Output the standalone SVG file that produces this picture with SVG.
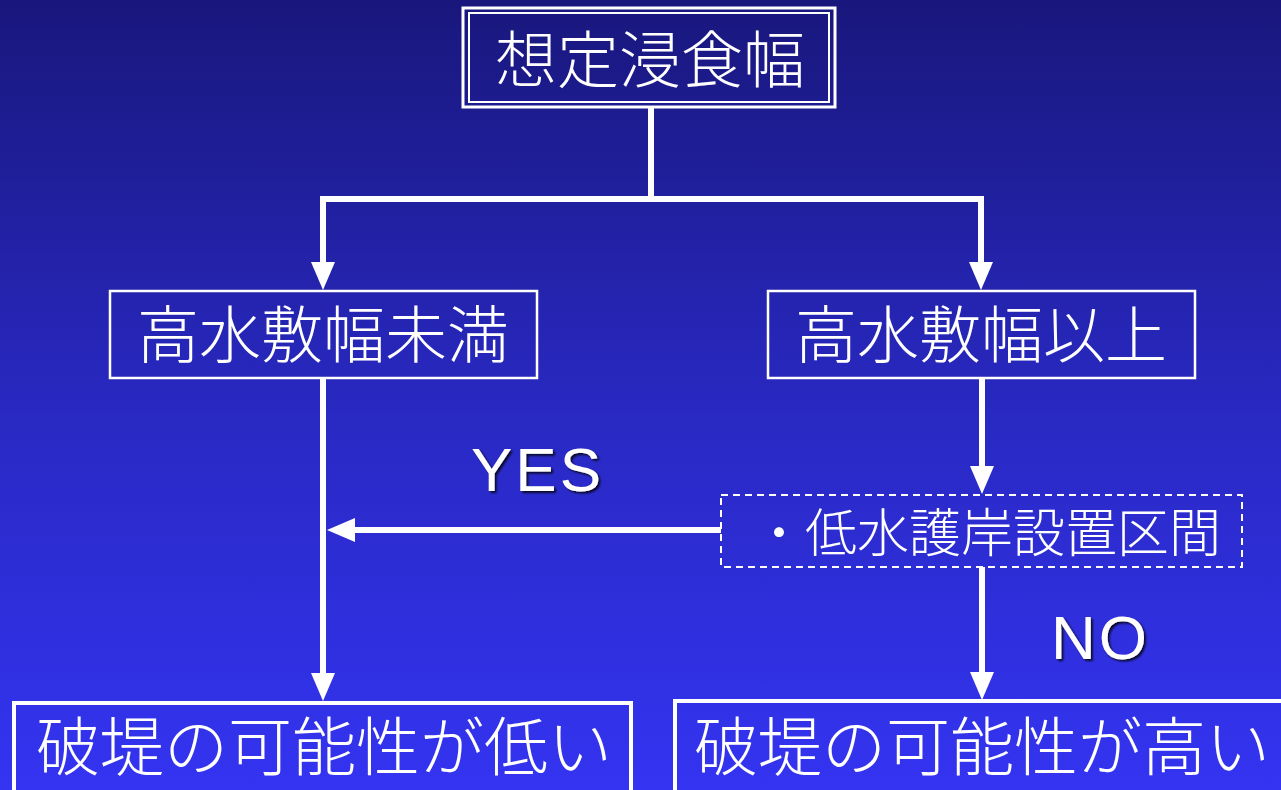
<svg xmlns="http://www.w3.org/2000/svg" width="1281" height="790" viewBox="0 0 1281 790">
<defs>
<linearGradient id="bg" x1="0" y1="0" x2="0" y2="1">
<stop offset="0" stop-color="#19177c"/>
<stop offset="0.5" stop-color="#2828c0"/>
<stop offset="1" stop-color="#3434f2"/>
</linearGradient>
<marker id="ah" viewBox="0 0 28 24" refX="0" refY="12" markerWidth="28" markerHeight="24" markerUnits="userSpaceOnUse" orient="auto">
<path d="M0,0 L28,12 L0,24 Z" fill="#fff"/>
</marker>
<filter id="sh" x="-10%" y="-10%" width="130%" height="130%">
<feDropShadow dx="2" dy="2" stdDeviation="0.8" flood-color="#000" flood-opacity="0.8"/>
</filter>
</defs>
<style>
.jp{font-family:"Liberation Serif","Noto Sans CJK JP",serif;fill:#fff;font-weight:300}
.en{font-family:"Liberation Sans",Arial,sans-serif;fill:#fff;font-size:62px;letter-spacing:3px;filter:url(#sh)}
.box{fill:none;stroke:#fff;stroke-width:2.5}
.line{fill:none;stroke:#fff;stroke-width:6}
</style>
<rect width="1281" height="790" fill="url(#bg)"/>
<g id="connectors">
<polyline class="line" points="651,107 651,199 323,199 323,262" marker-end="url(#ah)"/>
<polyline class="line" points="651,199 981,199 981,262" marker-end="url(#ah)"/>
<line class="line" x1="323" y1="378" x2="323" y2="673" marker-end="url(#ah)"/>
<line class="line" x1="982" y1="378" x2="982" y2="466" marker-end="url(#ah)"/>
<line class="line" x1="721" y1="530" x2="355" y2="530" marker-end="url(#ah)"/>
<line class="line" x1="982" y1="567" x2="982" y2="672" marker-end="url(#ah)"/>
</g>
<g id="n-top">
<rect x="463" y="8" width="372" height="99" fill="none" stroke="#fff" stroke-width="3"/>
<rect x="469" y="13" width="360" height="89" fill="none" stroke="#fff" stroke-width="2"/>
<text class="jp" x="650" y="83" font-size="62" text-anchor="middle">想定浸食幅</text>
</g>
<g id="n-left">
<rect class="box" x="110" y="291" width="427" height="87"/>
<text class="jp" x="323" y="358" font-size="62" text-anchor="middle">高水敷幅未満</text>
</g>
<g id="n-right">
<rect class="box" x="768" y="291" width="427" height="87"/>
<text class="jp" x="981" y="358" font-size="62" text-anchor="middle">高水敷幅以上</text>
</g>
<g id="n-cond">
<rect x="721" y="495" width="521" height="72" fill="none" stroke="#fff" stroke-width="2" stroke-dasharray="7,5"/>
<text class="jp" x="753" y="552" font-size="52">・低水護岸設置区間</text>
</g>
<text class="en" x="471" y="491">YES</text>
<text class="en" x="1051" y="659">NO</text>
<g id="n-low">
<rect x="14" y="703" width="617" height="92" fill="none" stroke="#fff" stroke-width="4"/>
<text class="jp" x="36" y="770" font-size="64">破堤の可能性が低い</text>
</g>
<g id="n-high">
<rect x="675" y="701" width="620" height="94" fill="none" stroke="#fff" stroke-width="4"/>
<text class="jp" x="694" y="770" font-size="64">破堤の可能性が高い</text>
</g>
</svg>
